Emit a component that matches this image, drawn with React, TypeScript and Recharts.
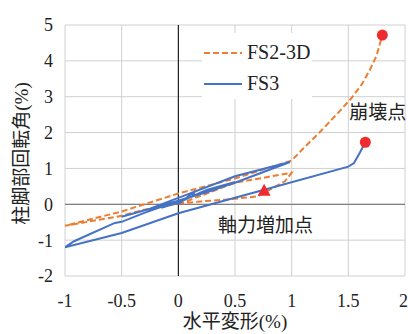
import React from 'react';
import {
  ComposedChart, XAxis, YAxis, CartesianGrid, Line, Scatter,
  ReferenceLine, ReferenceDot, Legend, Label,
} from 'recharts';

const serif = "'Liberation Serif', 'Noto Sans CJK JP', serif";

const xTicks = [-1, -0.5, 0, 0.5, 1, 1.5, 2];
const yTicks = [-2, -1, 0, 1, 2, 3, 4, 5];

// FS2-3D (dashed orange)
const fs23dX = [0, 0.25, 0.5, 1.0, 0.94, 0.7, 0.42, 0.2, 0, -0.3, -0.5, -1.0, -0.5, -0.25, 0, 0.5, 1.0, 1.1, 1.26, 1.41, 1.53, 1.62, 1.69, 1.75, 1.8];
const fs23dY = [0, 0.3, 0.6, 0.88, 0.64, 0.22, 0.13, 0.08, 0.02, -0.15, -0.32, -0.6, -0.2, 0.05, 0.3, 0.72, 1.22, 1.55, 2.05, 2.55, 2.97, 3.35, 3.75, 4.15, 4.72];

// FS3 (solid blue)
const fs3X = [0, 0.15, 0.12, 0, -0.15, 0, 0.25, 0.5, 0.3, 0, -0.5, -0.25, 0, 0.5, 0.985, 0.5, 0, -0.3, -0.5, -0.56, -0.92, -1.0, -0.5, 0, 0.75, 1.5, 1.55, 1.6, 1.65];
const fs3Y = [0, 0.38, 0.22, 0.08, -0.1, 0.05, 0.4, 0.62, 0.38, 0.1, -0.35, -0.12, 0.18, 0.78, 1.18, 0.6, 0.1, -0.24, -0.49, -0.52, -1.03, -1.2, -0.8, -0.25, 0.4, 1.05, 1.15, 1.43, 1.73];

// markers
const collapseX = [1.8, 1.65];
const collapseY = [4.72, 1.73];
const axialX = [0.757];
const axialY = [0.38];

const annotations = [
  { x: 1.76, y: 2.56, text: '崩壊点' },
  { x: 0.77, y: -0.58, text: '軸力増加点' },
];

const legendItems = [
  { name: 'FS2-3D', color: '#ED7D31', dash: '6 3' },
  { name: 'FS3', color: '#4472C4', dash: undefined },
];

const toPoints = (xs: number[], ys: number[]) => xs.map((x, i) => ({ x, y: ys[i] }));

const fs23d = toPoints(fs23dX, fs23dY);
const fs3 = toPoints(fs3X, fs3Y);
const collapse = toPoints(collapseX, collapseY);
const axial = toPoints(axialX, axialY);

const RedCircle = (props: any) => (
  <circle cx={props.cx} cy={props.cy} r={5.5} fill="#EF2B2D" />
);

const RedTriangle = (props: any) => {
  const { cx, cy } = props;
  return (
    <polygon
      points={`${cx},${cy - 7} ${cx + 6.5},${cy + 5} ${cx - 6.5},${cy + 5}`}
      fill="#EF2B2D"
    />
  );
};

const LegendBox = () => (
  <div style={{ width: 110, height: 66, background: '#fff', paddingTop: 4, boxSizing: 'border-box' }}>
    {legendItems.map((it) => (
      <div key={it.name} style={{ display: 'flex', alignItems: 'center', height: 31 }}>
        <svg width={40} height={4}>
          <line x1={2} x2={40} y1={2} y2={2} stroke={it.color} strokeWidth={2} strokeDasharray={it.dash} />
        </svg>
        <span style={{ marginLeft: 5, fontFamily: serif, fontSize: 20, color: '#222' }}>{it.name}</span>
      </div>
    ))}
  </div>
);

const YTitle = (props: any) => {
  const vb = props.viewBox;
  const cx = vb.x + 21;
  const cy = vb.y + vb.height / 2 + 3;
  return (
    <text
      x={cx}
      y={cy}
      transform={`rotate(-90 ${cx} ${cy})`}
      textAnchor="middle"
      dominantBaseline="central"
      fontFamily={serif}
      fontSize={19}
      fill="#222"
    >
      柱脚部回転角(%)
    </text>
  );
};

export default function App() {
  return (
    <div style={{ position: 'absolute', left: 0, top: 0, width: 408, height: 334, background: '#fff' }}>
      <ComposedChart width={408} height={334} margin={{ top: 25, right: 3, bottom: 0, left: 0 }}>
        <CartesianGrid stroke="#d0d0d0" />
        <XAxis
          type="number"
          dataKey="x"
          domain={[-1, 2]}
          ticks={xTicks}
          height={58}
          axisLine={false}
          tickLine={false}
          tickMargin={12}
          tick={{ fontSize: 18, fill: '#222', fontFamily: serif }}
          allowDataOverflow
        >
          <Label value="水平変形(%)" position="insideBottom" offset={6} fontSize={19} fill="#222" fontFamily={serif} />
        </XAxis>
        <YAxis
          type="number"
          dataKey="y"
          domain={[-2, 5]}
          ticks={yTicks}
          width={65}
          axisLine={false}
          tickLine={false}
          tickMargin={6}
          tick={{ fontSize: 18, fill: '#222', fontFamily: serif }}
          allowDataOverflow
        >
          <Label content={YTitle} />
        </YAxis>
        <ReferenceLine y={0} stroke="#808080" strokeWidth={1.2} />
        <ReferenceLine x={0} stroke="#000" strokeWidth={1} />
        <Line
          data={fs23d}
          dataKey="y"
          name="FS2-3D"
          type="linear"
          stroke="#ED7D31"
          strokeWidth={2}
          strokeDasharray="6 3"
          dot={false}
          isAnimationActive={false}
        />
        <Line
          data={fs3}
          dataKey="y"
          name="FS3"
          type="linear"
          stroke="#4472C4"
          strokeWidth={2}
          dot={false}
          isAnimationActive={false}
        />
        <Scatter data={collapse} dataKey="y" shape={RedCircle} isAnimationActive={false} legendType="none" />
        <Scatter data={axial} dataKey="y" shape={RedTriangle} isAnimationActive={false} legendType="none" />
        {annotations.map((a) => (
          <ReferenceDot
            key={a.text}
            x={a.x}
            y={a.y}
            r={0}
            fill="none"
            stroke="none"
            ifOverflow="visible"
            label={{ value: a.text, position: 'center', fontSize: 19, fill: '#222', fontFamily: serif }}
          />
        ))}
        <Legend
          layout="vertical"
          align="center"
          verticalAlign="middle"
          wrapperStyle={{ left: 202, top: 33, width: 110, height: 66 }}
          content={LegendBox}
        />
      </ComposedChart>
    </div>
  );
}
